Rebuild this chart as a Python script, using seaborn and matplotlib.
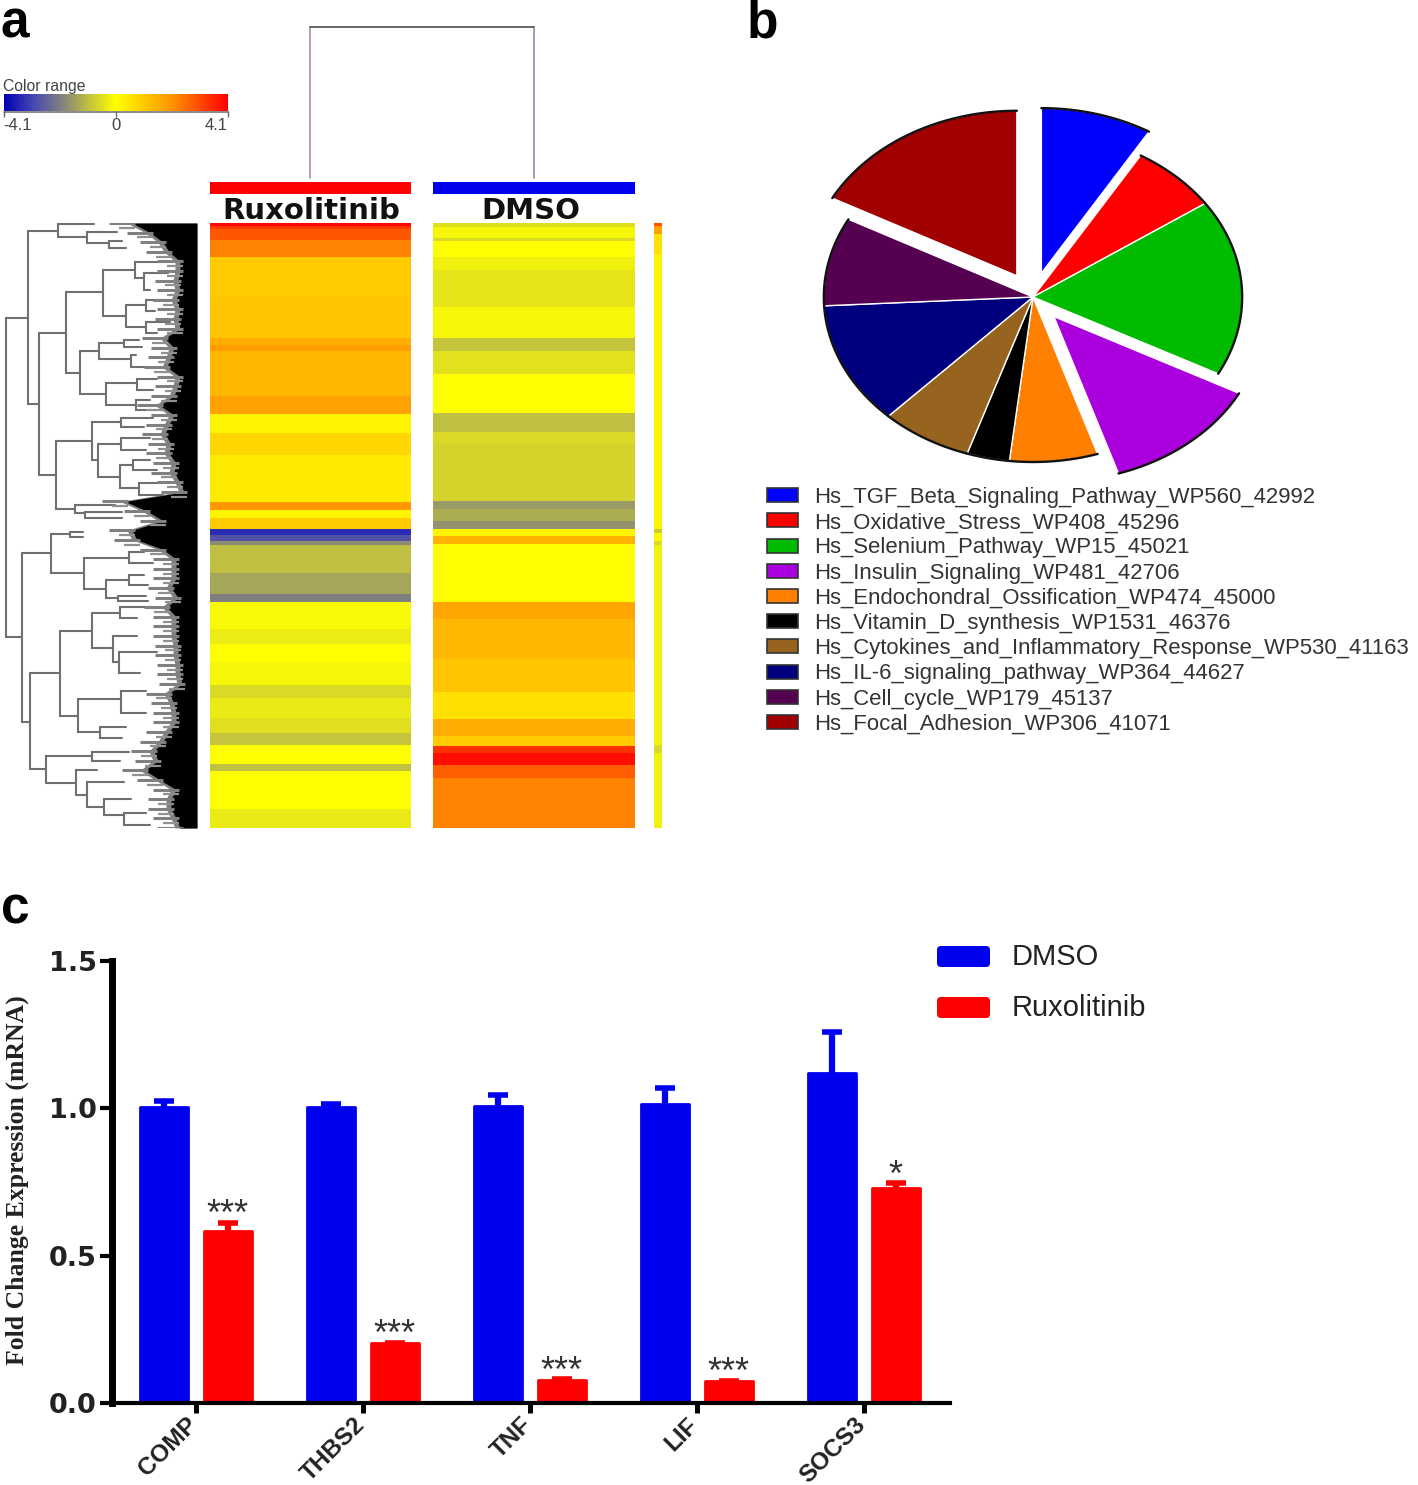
"""Three panel figure: expression heatmap, pathway pie, qPCR bar chart."""

import numpy as np
import pandas as pd
import matplotlib.pyplot as plt
import seaborn as sns
from matplotlib.colors import LinearSegmentedColormap
from matplotlib.patches import FancyBboxPatch, Patch, Rectangle
from matplotlib.transforms import ScaledTranslation

# ---- heatmap: band values (log ratio) and band heights (number of genes)
RUX_VALUES = [4.0, 3.3, 2.9, 2.3, 1.0, 1.15, 1.6, 1.9, 1.4, 1.8, 0.2, 0.8, 0.4, 2.0, 0.2, 1.0,
              -3.4, -2.8, -1.8, -1.0, -1.4, -2.0, -0.1, -0.3, 0.0, -0.15, -0.6, -0.35,
              -0.5, -0.9, 0.0, -1.0, 0.0, -0.35]
RUX_GENES = [3, 3, 11, 17, 40, 41, 7, 6, 45, 18, 19, 22, 47, 8, 8, 11,
             6, 6, 4, 28, 21, 8, 27, 15, 18, 23, 13, 20,
             15, 12, 19, 7, 38, 19]
DMSO_VALUES = [-0.5, -0.15, -0.6, 0.0, -0.25, -0.4, -0.15, -0.9, -0.45, 0.0, -1.0, -0.6,
               -0.7, -1.6, -1.3, -1.7,
               0.2, 1.5, 0.05, 1.7, 1.4, 1.1, 0.6, 1.6, 1.0, 3.4, 3.9, 2.8, 2.3]
DMSO_GENES = [4, 11, 3, 16, 13, 37, 31, 13, 23, 39, 19, 12, 57, 8, 12, 8,
              7, 8, 58, 17, 40, 33, 27, 17, 10, 7, 12, 13, 50]
MEAN_VALUES = [3.0, 1.8, 0.6, 0.2, -0.8, 0.1, -0.6, -0.2, -0.6, -0.2]
MEAN_GENES = [3, 8, 20, 275, 4, 8, 4, 200, 8, 75]

# ---- row dendrogram: merge depth, top row, top child depth, bottom row, bottom child depth
ROW_LINKS = [
    (6, 95, 28, 414, 22), (28, 8, 58, 181, 39), (58, 1, 94, 14, 87), (87, 9, 117, 20, 109),
    (109, 18, 122, 25, 126), (39, 110, 66, 252, 56), (66, 69, 103, 150, 80),
    (103, 47, 135, 93, 126), (135, 39, 161, 55, 144), (144, 50, 168, 67, 150),
    (126, 82, 146, 104, 146), (146, 77, 166, 88, 155), (146, 99, 170, 110, 157),
    (80, 128, 99, 171, 106), (99, 120, 124, 136, 131), (124, 117, 139, 124, 142),
    (131, 132, 136, 144, 148), (106, 160, 137, 182, 136), (137, 156, 157, 167, 153),
    (136, 177, 150, 187, 146), (56, 218, 92, 286, 75), (92, 199, 121, 237, 98),
    (121, 195, 153, 204, 144), (98, 221, 121, 254, 120), (121, 215, 150, 227, 146),
    (120, 242, 133, 265, 139), (133, 237, 150, 247, 157), (139, 260, 161, 272, 163),
    (75, 282, 115, 290, 85), (85, 289, 122, 295, 122),
    (22, 330, 51, 499, 30), (51, 311, 70, 350, 84), (70, 309, 83, 314, 83),
    (84, 335, 129, 366, 106), (129, 329, 144, 340, 153), (106, 357, 129, 375, 118),
    (129, 352, 144, 362, 148), (118, 373, 146, 378, 148), (30, 450, 60, 546, 46),
    (60, 408, 92, 493, 78), (92, 390, 120, 425, 113), (120, 384, 148, 395, 137),
    (113, 413, 137, 439, 119), (119, 429, 157, 450, 140), (78, 476, 121, 509, 100),
    (121, 468, 146, 490, 146), (100, 504, 126, 515, 122), (46, 533, 92, 560, 76),
    (92, 529, 129, 538, 120), (76, 547, 97, 572, 87), (87, 559, 124, 584, 104),
    (104, 576, 131, 592, 124), (124, 590, 146, 602, 150),
]
# depth where the dense leaves start, top to bottom
LEAF_EDGE = [135, 153, 166, 172, 183, 183, 181, 183, 179, 183, 181, 183, 168, 177, 174, 170,
             183, 181, 177, 163, 177, 172, 168, 174, 172, 179, 177, 183, 187, 128, 150, 166,
             135, 140, 166, 179, 179, 179, 174, 181, 170, 179, 179, 179, 181, 181, 183, 183,
             185, 172, 177, 179, 179, 172, 166, 157, 161, 148, 163, 179, 174, 174, 179, 183]

# ---- pie
PATHWAYS = ["Hs_TGF_Beta_Signaling_Pathway_WP560_42992", "Hs_Oxidative_Stress_WP408_45296",
            "Hs_Selenium_Pathway_WP15_45021", "Hs_Insulin_Signaling_WP481_42706",
            "Hs_Endochondral_Ossification_WP474_45000", "Hs_Vitamin_D_synthesis_WP1531_46376",
            "Hs_Cytokines_and_Inflammatory_Response_WP530_41163",
            "Hs_IL-6_signaling_pathway_WP364_44627", "Hs_Cell_cycle_WP179_45137",
            "Hs_Focal_Adhesion_WP306_41071"]
PATHWAY_SHARES = [8.6, 6.8, 17.3, 12.3, 6.8, 3.3, 7.05, 12.0, 8.65, 17.2]
PATHWAY_EXPLODE = [0.15, 0, 0, 0.155, 0, 0, 0, 0, 0, 0.15]
PATHWAY_COLORS = ["#0000ff", "#ff0000", "#00bb00", "#aa00dd", "#ff8000",
                  "#000000", "#96641e", "#00007f", "#550050", "#a00000"]

# ---- bars
GENES = ["COMP", "THBS2", "TNF", "LIF", "SOCS3"]
DMSO_FOLD = [1.003, 1.003, 1.008, 1.015, 1.119]
DMSO_ERR = [0.020, 0.010, 0.037, 0.055, 0.140]
RUX_FOLD = [0.584, 0.204, 0.078, 0.075, 0.730]
RUX_ERR = [0.028, 0.002, 0.004, 0.002, 0.016]
RUX_STARS = ["***", "***", "***", "***", "*"]

W, H = 1418, 1485
REGULAR = "Liberation Sans"

sns.set_theme(style="white")
plt.rcParams['font.family'] = REGULAR

fig = plt.figure(figsize=(W / 100, H / 100), dpi=100, facecolor="white")


def ax_px(x0, y0, x1, y1, **kw):
    # axes from picture pixels, y going down
    return fig.add_axes([x0 / W, 1 - y1 / H, (x1 - x0) / W, (y1 - y0) / H], **kw)


overlay = ax_px(0, 0, W, H, zorder=0)
overlay.set_xlim(0, W)
overlay.set_ylim(H, 0)
overlay.axis("off")

# ────────────────────────────── a: heatmap ──────────────────────────────
cmap = LinearSegmentedColormap.from_list("range", [
    (0.0, "#0000b4"), (1.1 / 8.2, "#4848b0"), (2.1 / 8.2, "#808080"),
    (0.5, "#ffff00"), (6.1 / 8.2, "#ff9800"), (1.0, "#ff0000")])

cax = ax_px(3.5, 94, 228, 111)
columns = [(RUX_VALUES, RUX_GENES, 210, 411), (DMSO_VALUES, DMSO_GENES, 433, 635),
           (MEAN_VALUES, MEAN_GENES, 654, 662)]
for i, (values, genes, x0, x1) in enumerate(columns):
    ax = ax_px(x0, 223, x1, 828)
    matrix = np.repeat(values, genes).reshape(-1, 1)
    sns.heatmap(matrix, ax=ax, cmap=cmap, vmin=-4.1, vmax=4.1, xticklabels=False,
                yticklabels=False, cbar=i == 0, cbar_ax=cax if i == 0 else None,
                cbar_kws={"orientation": "horizontal", "ticks": [-4.1, 0, 4.1]})
    if i == 0:
        cb = ax.collections[0].colorbar
        cb.outline.set_visible(False)
        cb.ax.set_xticklabels(["-4.1", "0", "4.1"])
        cb.ax.tick_params(length=4, width=1, color="#666666", labelsize=12,
                          labelcolor="#444444", pad=1, bottom=True)
        labels = cb.ax.get_xticklabels()
        labels[0].set_ha("left")
        labels[2].set_ha("right")

overlay.plot([3.5, 228], [112, 112], color="#777777", lw=1.2)
overlay.text(3, 86, "Color range", fontsize=11.3, color="#444444", va="center")

dend = ax_px(0, 223, 197, 828)
dend.set_xlim(0, 197)
dend.set_ylim(605, 0)
dend.axis("off")
for depth, top, top_child, bottom, bottom_child in ROW_LINKS:
    dend.plot([top_child, depth, depth, bottom_child], [top, top, bottom, bottom],
              color="#707070", lw=1.5, solid_joinstyle="miter")
edge_rows = np.linspace(0, 605, len(LEAF_EDGE))
edge = np.array(LEAF_EDGE)
# leaves too dense to read: a grey comb that runs into the black block
dend.hlines(edge_rows, edge - 26, edge, color="#808080", lw=2.2)
dend.hlines(edge_rows[:-1] + 4.8, edge[:-1] - 16, edge[:-1], color="#909090", lw=1.6)
dend.fill_betweenx(edge_rows, edge - 8, 197, color="#808080", lw=0)
dend.fill_betweenx(edge_rows, edge - 3, 197, color="black", lw=0)

# sample dendrogram and colour bars
overlay.plot([310, 310], [27, 178], color="#b09090", lw=1.2)
overlay.plot([534, 534], [27, 178], color="#9090b0", lw=1.2)
overlay.plot([310, 534], [27, 27], color="#666666", lw=1.4)
overlay.add_patch(Rectangle((210, 182), 201, 12, color="#ff0000", lw=0))
overlay.add_patch(Rectangle((433, 182), 202, 12, color="#0000ee", lw=0))
overlay.text(311, 219, "Ruxolitinib", family="DejaVu Sans", weight="bold", fontsize=21,
             ha="center", va="baseline", color="#111111")
overlay.text(531, 219, "DMSO", family="DejaVu Sans", weight="bold", fontsize=21,
             ha="center", va="baseline", color="#111111")

# ────────────────────────────── b: pie ──────────────────────────────
pie_ax = ax_px(782, 99, 1284, 495)
wedges, _ = pie_ax.pie(PATHWAY_SHARES, colors=PATHWAY_COLORS, explode=PATHWAY_EXPLODE,
                       startangle=90, counterclock=False, radius=1)
pie_ax.set_aspect("auto")
pie_ax.set_xlim(-1.2, 1.2)
pie_ax.set_ylim(-1.2, 1.2)
for w in wedges:
    # dark rim only, the radial sides stay clean
    a = np.deg2rad(np.linspace(w.theta1, w.theta2, 60))
    pie_ax.plot(w.center[0] + np.cos(a), w.center[1] + np.sin(a), color="#111111", lw=1.7)

handles = [Patch(facecolor=c, edgecolor="#333333", linewidth=1.2) for c in PATHWAY_COLORS]
fig.legend(handles, PATHWAYS, loc="upper left", bbox_to_anchor=(767 / W, 1 - 487 / H),
           frameon=False, fontsize=15.9, handlelength=1.4, handleheight=0.59,
           handletextpad=0.72, labelspacing=0.19, borderpad=0, borderaxespad=0,
           labelcolor="#333333")

# ────────────────────────────── c: bars ──────────────────────────────
df = pd.DataFrame({
    "Gene": GENES * 2,
    "Fold": DMSO_FOLD + RUX_FOLD,
    "Treatment": ["DMSO"] * len(GENES) + ["Ruxolitinib"] * len(GENES),
})
bar_ax = ax_px(112, 960.7, 950, 1403.3, facecolor="none")
palette = {"DMSO": "#0000f0", "Ruxolitinib": "#ff0000"}
sns.barplot(data=df, x="Gene", y="Fold", hue="Treatment", palette=palette, width=0.76,
            gap=0.25, saturation=1, errorbar=None, legend=False, ax=bar_ax)
bar_ax.set_xlim(-0.503, 4.515)
bar_ax.set_ylim(0, 1.5)
bar_ax.set_yticks([0, 0.5, 1.0, 1.5])
bar_ax.set_yticklabels(["0.0", "0.5", "1.0", "1.5"], family="DejaVu Sans", weight="bold",
                       fontsize=19.5, color="#222222")
bar_ax.tick_params(axis="y", left=True, length=8.6, width=3, pad=2.5, color="black")
bar_ax.tick_params(axis="x", bottom=True, length=7, width=3.6, pad=6, color="black")
bar_ax.set_xticks(range(len(GENES)))
bar_ax.set_xticklabels(GENES, rotation=45, ha="right", va="center", rotation_mode="anchor",
                       fontsize=17.5, weight="bold", color="#222222")
shift = ScaledTranslation(-2 / 100, 0, fig.dpi_scale_trans)
for label in bar_ax.get_xticklabels():
    label.set_transform(label.get_transform() + shift)
bar_ax.set_xlabel("")
bar_ax.set_ylabel("Fold Change Expression (mRNA)", family="Liberation Serif", weight="bold",
                  fontsize=18.5, color="#222222")
bar_ax.yaxis.set_label_coords(-83 / 838, 0.505)
sns.despine(ax=bar_ax)
bar_ax.spines["left"].set_linewidth(5)
bar_ax.spines["bottom"].set_linewidth(3)
for side in ("left", "bottom"):
    bar_ax.spines[side].set_color("black")

for container, fold, err, color in zip(bar_ax.containers, (DMSO_FOLD, RUX_FOLD),
                                       (DMSO_ERR, RUX_ERR), palette.values()):
    centers = [b.get_x() + b.get_width() / 2 for b in container]
    # lower half stays hidden behind the bar
    bar_ax.errorbar(centers, fold, yerr=err, fmt="none", ecolor=color,
                    elinewidth=4.5, capsize=7.5, capthick=4, zorder=0.5)
    for b in container:
        b.set_edgecolor(color)
        b.set_linewidth(2)
        b.set_joinstyle("round")

for b, fold, err, stars in zip(bar_ax.containers[1], RUX_FOLD, RUX_ERR, RUX_STARS):
    bar_ax.annotate(stars, (b.get_x() + b.get_width() / 2, fold + err), xytext=(0, 5),
                    textcoords="offset points", ha="center", va="center", fontsize=26,
                    color="#333333")

# manual legend with the rounded swatches
for y0, label, color in ((946, "DMSO", palette["DMSO"]), (997, "Ruxolitinib", palette["Ruxolitinib"])):
    overlay.add_patch(FancyBboxPatch((940, y0 + 3), 47, 15, boxstyle="round,pad=3,rounding_size=4",
                                     color=color, lw=0))
    overlay.text(1012, y0 + 11, label, fontsize=21, va="center", color="#222222")

# panel letters
for x, y, letter in ((1, 38, "a"), (747, 38, "b"), (1, 924, "c")):
    overlay.text(x, y, letter, weight="bold", fontsize=37, color="black", va="baseline")

fig.savefig("out.png", dpi=100, facecolor="white")
plt.close(fig)
